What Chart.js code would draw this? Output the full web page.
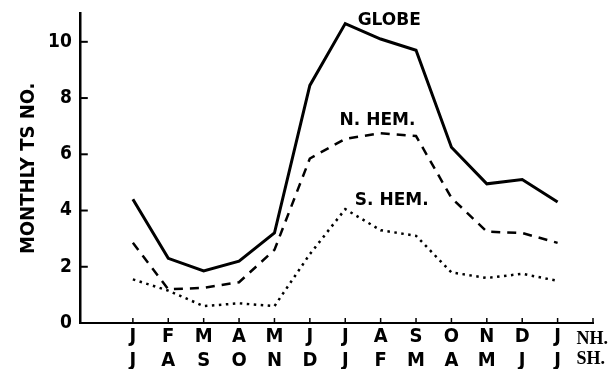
<!DOCTYPE html>
<html>
<head>
<meta charset="utf-8">
<script src="https://cdn.jsdelivr.net/npm/chart.js@4/dist/chart.umd.min.js"></script>
<style>
	html, body { margin: 0; padding: 0; background: #fff; }
	#wrap { width: 610px; height: 369px; }
</style>
</head>
<body>
<div id="wrap"><canvas id="graph"></canvas></div>
<script>
// mois hémisphère nord / sud
const moisNH = ["J", "F", "M", "A", "M", "J", "J", "A", "S", "O", "N", "D", "J"];
const moisSH = ["J", "A", "S", "O", "N", "D", "J", "F", "M", "A", "M", "J", "J"];
const globe = [4.4, 2.3, 1.85, 2.2, 3.2, 8.45, 10.65, 10.1, 9.7, 6.25, 4.95, 5.1, 4.3];
const nHem = [2.85, 1.2, 1.25, 1.45, 2.6, 5.85, 6.55, 6.75, 6.65, 4.45, 3.25, 3.2, 2.85];
const sHem = [1.55, 1.15, 0.6, 0.7, 0.6, 2.45, 4.05, 3.3, 3.1, 1.8, 1.6, 1.75, 1.5];
const yTicks = [0, 2, 4, 6, 8, 10];
const etiquettes = [
	{ text: "GLOBE", x: 6.35, y: 10.75 },
	{ text: "N. HEM.", x: 5.84, y: 7.2 },
	{ text: "S. HEM.", x: 6.27, y: 4.35 },
];

const narrow = '"Liberation Sans Narrow", "DejaVu Sans Condensed", sans-serif';

const toPoints = (arr) => arr.map((v, i) => ({ x: i, y: v }));

// ticks vers l'intérieur + textes
const decor = {
	id: "decor",
	afterDraw(chart) {
		const ctx = chart.ctx;
		const xs = chart.scales.x;
		const ys = chart.scales.y;
		const area = chart.chartArea;
		ctx.save();
		ctx.strokeStyle = "#000";
		ctx.lineWidth = 2;
		for (const t of yTicks) {
			const py = ys.getPixelForValue(t);
			if (t === 0) continue;
			ctx.beginPath();
			ctx.moveTo(area.left, py);
			ctx.lineTo(area.left + 8, py);
			ctx.stroke();
		}
		ctx.lineWidth = 1.5;
		for (let i = 0; i <= moisNH.length; i++) {
			const px = xs.getPixelForValue(i);
			ctx.beginPath();
			ctx.moveTo(px, area.bottom);
			ctx.lineTo(px, area.bottom - 5);
			ctx.stroke();
		}
		ctx.fillStyle = "#000";
		ctx.font = 'bold 17px "DejaVu Sans", sans-serif';
		ctx.textBaseline = "middle";
		ctx.textAlign = "left";
		for (const e of etiquettes) {
			ctx.fillText(e.text, xs.getPixelForValue(e.x), ys.getPixelForValue(e.y));
		}
		ctx.font = 'bold 18px "Liberation Serif", serif';
		const px = xs.getPixelForValue(moisNH.length - 1) + 19;
		ctx.fillText("NH.", px, area.bottom + 16);
		ctx.fillText("SH.", px, area.bottom + 36);
		ctx.restore();
	},
};

window.addEventListener("load", () => {
	const canva = document.querySelector("#graph");
	new Chart(canva, {
		type: "line",
		data: {
			datasets: [
				{
					label: "GLOBE",
					data: toPoints(globe),
					borderColor: "#000",
					borderWidth: 3,
					pointRadius: 0,
					fill: false,
					tension: 0,
				},
				{
					label: "N. HEM.",
					data: toPoints(nHem),
					borderColor: "#000",
					borderWidth: 2.5,
					borderDash: [9, 7],
					pointRadius: 0,
					fill: false,
					tension: 0,
				},
				{
					label: "S. HEM.",
					data: toPoints(sHem),
					borderColor: "#000",
					borderWidth: 2.5,
					borderDash: [2.5, 4.5],
					pointRadius: 0,
					fill: false,
					tension: 0,
				},
			],
		},
		options: {
			responsive: true,
			maintainAspectRatio: false,
			animation: false,
			layout: { padding: { left: 19, top: 13, right: 17, bottom: -5 } },
			plugins: { legend: { display: false }, tooltip: { enabled: false } },
			scales: {
				x: {
					type: "linear",
					min: -1.5,
					max: 13,
					afterBuildTicks: (scale) => {
						scale.ticks = [...Array(moisNH.length + 1).keys()].map((v) => ({ value: v }));
					},
					grid: { display: false, drawTicks: false },
					border: { display: true, color: "#000", width: 2 },
					ticks: {
						autoSkip: false,
						maxRotation: 0,
						padding: 1.5,
						color: "#000",
						font: { family: narrow, size: 20, weight: "bold", lineHeight: "24px" },
						callback: (v) => (v < moisNH.length ? [moisNH[v], moisSH[v]] : ""),
					},
				},
				y: {
					min: 0,
					max: 11,
					afterBuildTicks: (scale) => {
						scale.ticks = yTicks.map((v) => ({ value: v }));
					},
					grid: { display: false, drawTicks: false },
					border: { display: true, color: "#000", width: 2.5 },
					ticks: {
						padding: 8,
						color: "#000",
						font: { family: narrow, size: 19, weight: "bold", lineHeight: 0.6 },
					},
					title: {
						display: true,
						text: "MONTHLY TS NO.",
						color: "#000",
						padding: { top: 0, bottom: 1 },
						font: { family: narrow, size: 20, weight: "bold", lineHeight: 1 },
					},
				},
			},
		},
		plugins: [decor],
	});
});
</script>
</body>
</html>
